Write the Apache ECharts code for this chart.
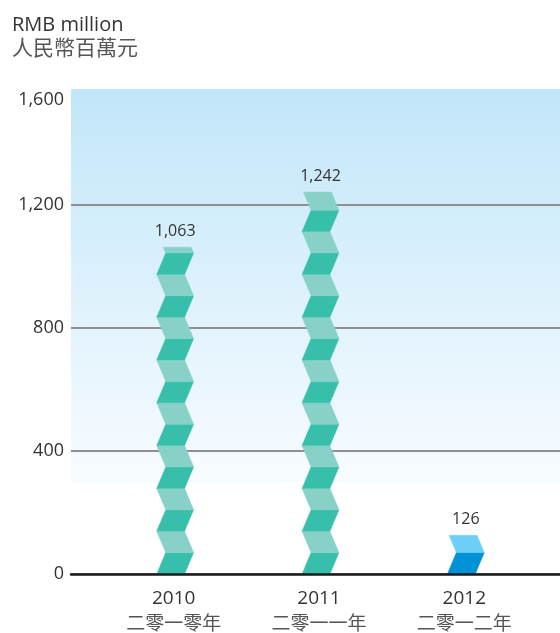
<!DOCTYPE html>
<html><head><meta charset="utf-8">
<script src="https://cdn.jsdelivr.net/npm/echarts@6/dist/echarts.min.js"></script>
<style>html,body{margin:0;padding:0;background:#fff}#c{width:560px;height:633px}</style>
</head><body><div id="c"></div>
<script>
const years = ['2010', '2011', '2012'];
const yearsZh = ['二零一零年', '二零一一年', '二零一二年'];
const values = [1063, 1242, 126];
const yMin = 0, yMax = 1600, yStep = 400;
const palette = [['#38bfac', '#88d1c9'], ['#38bfac', '#88d1c9'], ['#0091d6', '#6dcff6']];

const FONT = "'Open Sans', 'Noto Sans CJK TC', sans-serif";
const CJK = "'Noto Sans CJK TC', 'Noto Sans CJK SC', sans-serif";
const SEG = 21.4, HALF = 18.5, SHIFT = 9;

function renderItem(params, api) {
  const i = api.value(0), v = api.value(1);
  const base = api.coord([i, 0]);
  const top = api.coord([i, v]);
  const c = base[0] + 1.5;
  const w = 2 * HALF - SHIFT;
  const children = [];
  let y0 = base[1], k = 0;
  while (y0 > top[1] + 0.01) {
    const y1 = Math.max(y0 - SEG, top[1]);
    const f = (y0 - y1) / SEG;
    const even = k % 2 === 0;
    const bl = even ? c - HALF : c - HALF + SHIFT;
    const tl = even ? c - HALF + SHIFT : c - HALF;
    const tlx = bl + (tl - bl) * f;
    const col = palette[i][even ? 0 : 1];
    children.push({
      type: 'polygon',
      shape: { points: [[bl, y0], [bl + w, y0], [tlx + w, y1], [tlx, y1]] },
      style: { fill: col, stroke: col, lineWidth: 0.4 }
    });
    y0 = y1; k++;
  }
  children.push({
    type: 'text',
    style: {
      text: v.toLocaleString('en-US'), x: c, y: top[1] - 16,
      align: 'center', verticalAlign: 'middle',
      fontSize: 16, fill: '#333', fontFamily: FONT
    }
  });
  return { type: 'group', children };
}

const chart = echarts.init(document.getElementById('c'));
chart.setOption({
  animation: false,
  textStyle: { fontFamily: FONT },
  title: {
    text: 'RMB million', subtext: '人民幣百萬元',
    left: 12, top: 14, padding: 0, itemGap: 0,
    textStyle: { fontSize: 20, fontWeight: 'normal', color: '#333', lineHeight: 22, fontFamily: FONT },
    subtextStyle: { fontSize: 21, color: '#555', lineHeight: 22, fontFamily: CJK }
  },
  grid: [
    {
      left: 71, right: 0, top: 82, bottom: 59, show: true, borderWidth: 0,
      backgroundColor: {
        type: 'linear', x: 0, y: 0, x2: 0, y2: 1,
        colorStops: [
          { offset: 0, color: '#ffffff' },
          { offset: 0.014, color: '#ffffff' },
          { offset: 0.0145, color: '#c1e6f9' },
          { offset: 0.815, color: '#f8fcff' },
          { offset: 0.8155, color: '#ffffff' },
          { offset: 1, color: '#ffffff' }
        ]
      }
    },
    { left: 101, right: 23, top: 82, bottom: 59 }
  ],
  xAxis: [
    {
      gridIndex: 0, type: 'category', data: years,
      axisLine: { show: true, lineStyle: { color: '#1a1a1a', width: 2.5 } },
      axisTick: { show: false }, axisLabel: { show: false }, z: 10
    },
    {
      gridIndex: 1, type: 'category', data: years,
      axisLine: { show: false }, axisTick: { show: false },
      axisLabel: {
        margin: 13,
        formatter: (val, idx) => '{a|' + val + '}\n{b|' + yearsZh[idx] + '}',
        rich: {
          a: { fontSize: 19, color: '#333', lineHeight: 24, fontFamily: FONT },
          b: { fontSize: 19, color: '#555', lineHeight: 24, fontFamily: CJK }
        }
      }
    }
  ],
  yAxis: [
    {
      gridIndex: 0, type: 'value', min: yMin, max: yMax, interval: yStep,
      axisLine: { show: false }, axisTick: { show: false },
      splitLine: { show: true, showMaxLine: false, lineStyle: { color: '#8f8f8f', width: 2 } },
      axisLabel: {
        margin: 7, fontSize: 18, color: '#333',
        formatter: v => v === yMax ? '{t|' + v.toLocaleString('en-US') + '}' : v.toLocaleString('en-US'),
        rich: { t: { fontSize: 18, color: '#333', lineHeight: 54, verticalAlign: 'bottom', fontFamily: FONT } }
      }
    },
    { gridIndex: 1, type: 'value', min: yMin, max: yMax, interval: yStep, show: false }
  ],
  series: [{
    type: 'custom',
    xAxisIndex: 1, yAxisIndex: 1,
    renderItem: renderItem,
    data: values.map((v, i) => [i, v]),
    z: 5
  }]
});
</script>
</body></html>
